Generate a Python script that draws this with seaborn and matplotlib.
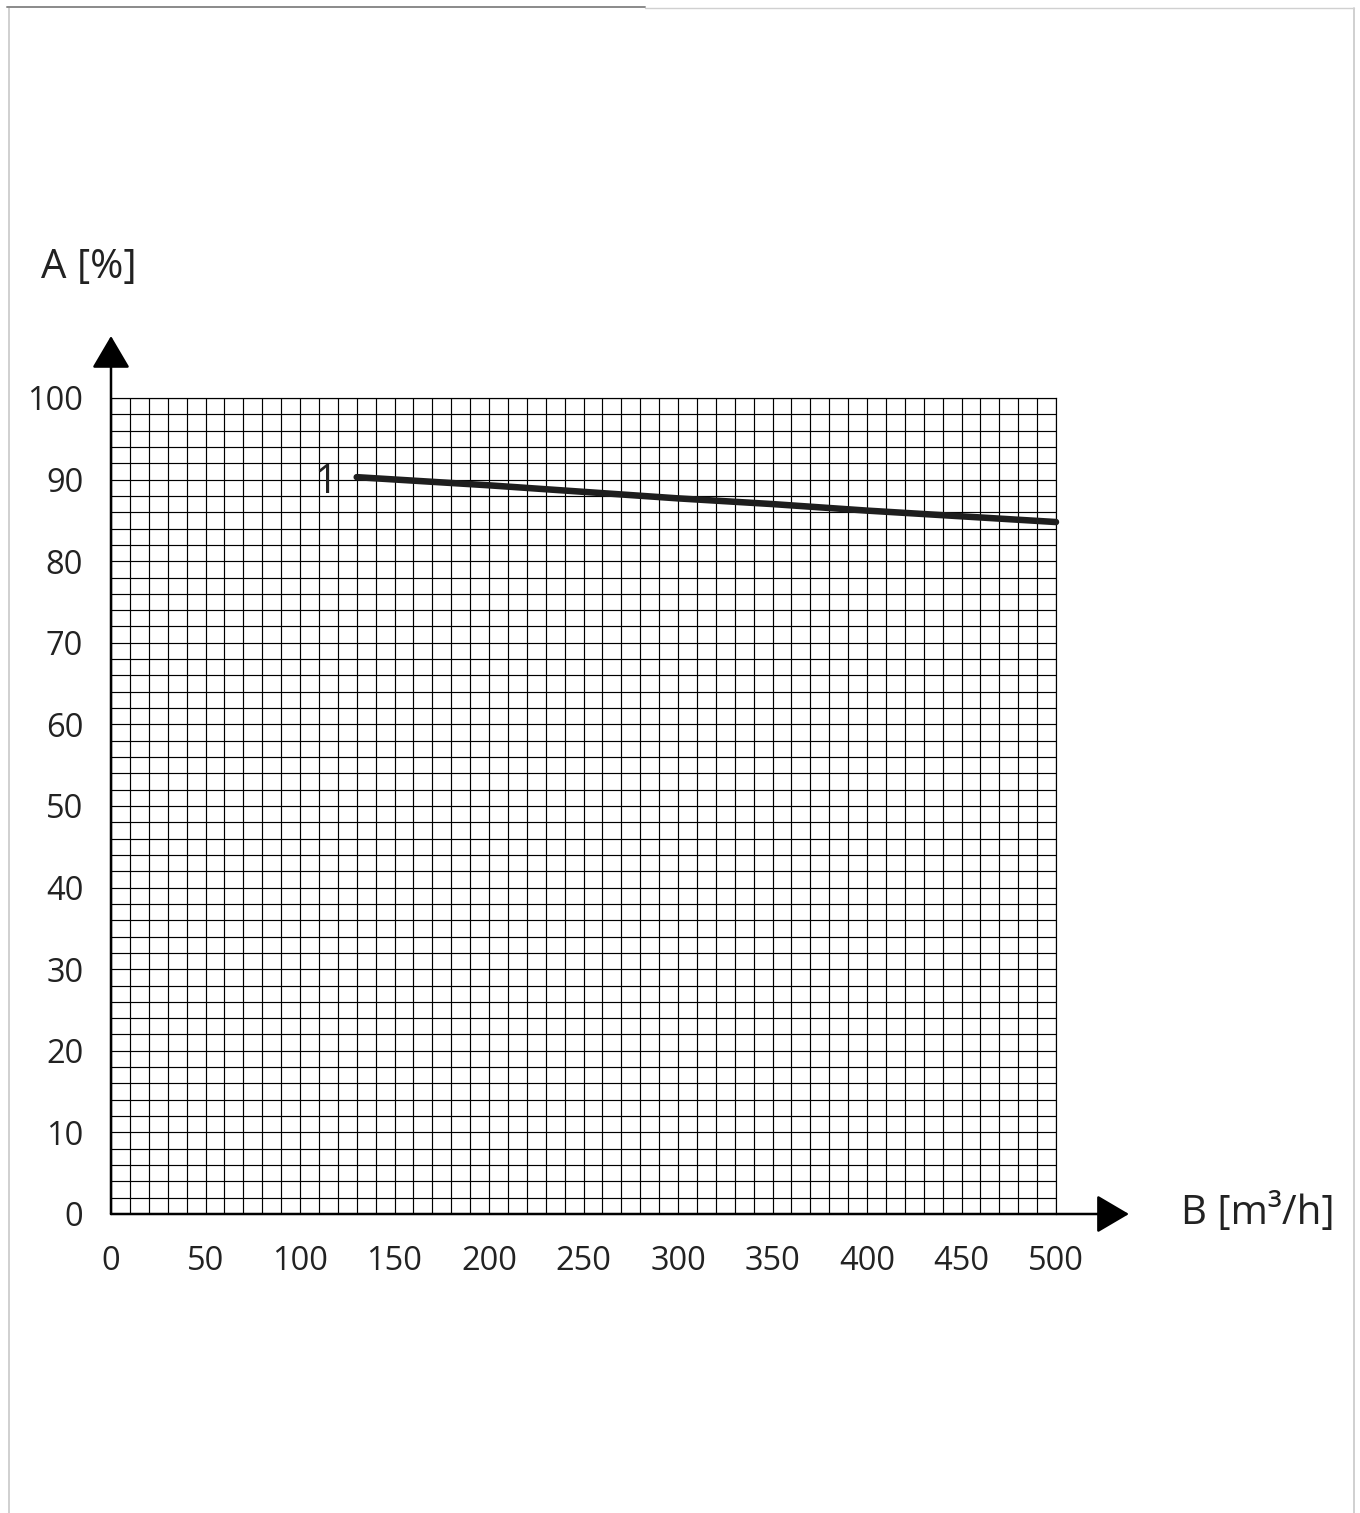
import matplotlib
matplotlib.use("Agg")
import matplotlib.pyplot as plt
import seaborn as sns
import numpy as np
import pandas as pd
from matplotlib.lines import Line2D

# ---- data ----
flow = [130, 200, 250, 300, 350, 400, 450, 500]          # B [m³/h]
efficiency = [90.3, 89.3, 88.5, 87.7, 87.0, 86.2, 85.5, 84.8]  # A [%]
x_ticks = [0, 50, 100, 150, 200, 250, 300, 350, 400, 450, 500]
y_ticks = [0, 10, 20, 30, 40, 50, 60, 70, 80, 90, 100]
curve_label = "1"
x_label = "B [m³/h]"
y_label = "A [%]"

sns.set_style("white")
plt.rcParams['font.family'] = ['Open Sans', 'DejaVu Sans']
TXT = "#222222"

W, H = 1360, 1513
fig = plt.figure(figsize=(W / 100, H / 100), dpi=100)
fig.patch.set_facecolor("white")

L, R, T, B = 111, 1056, 398, 1214
ax = fig.add_axes([L / W, 1 - B / H, (R - L) / W, (B - T) / H])
ax.set_xlim(0, 500)
ax.set_ylim(0, 100)
ax.set_facecolor("none")

# grid
ax.set_xticks(np.arange(0, 501, 10), minor=True)
ax.set_yticks(np.arange(0, 101, 2), minor=True)
ax.set_xticks(x_ticks)
ax.set_yticks(y_ticks)
ax.set_xticklabels([str(v) for v in x_ticks])
ax.set_yticklabels([str(v) for v in y_ticks])
ax.grid(which="both", color="black", linewidth=0.85)
ax.tick_params(which="both", length=0)
ax.tick_params(axis="x", pad=22, labelsize=23.5, labelcolor=TXT)
ax.tick_params(axis="y", pad=20, labelsize=23.5, labelcolor=TXT)
for s in ax.spines.values():
    s.set_visible(False)
for side in ("top", "right"):
    ax.spines[side].set_visible(True)
    ax.spines[side].set_linewidth(0.85)
    ax.spines[side].set_color("black")

# curve
df = pd.DataFrame({"B": flow, "A": efficiency})
sns.lineplot(data=df, x="B", y="A", ax=ax, color="#1e1e1e", linewidth=4.7,
             solid_capstyle="round", clip_on=False, zorder=5)
ax.set_xlabel("")
ax.set_ylabel("")
ax.text(120, 89.6, curve_label, ha="right", va="center", fontsize=29, color=TXT)

# axes arrows
arrow_kw = dict(arrowstyle="-|>,head_length=0.85,head_width=0.5", mutation_scale=23.8,
                lw=1.8, color="black", shrinkA=0, shrinkB=0)
ax.annotate("", xy=(0, 107.6), xytext=(0, 0), xycoords="data",
            arrowprops=arrow_kw, annotation_clip=False, zorder=6)
ax.annotate("", xy=(538.6, 0), xytext=(0, 0), xycoords="data",
            arrowprops=arrow_kw, annotation_clip=False, zorder=6)

# axis titles
fig.text(41 / W, 1 - 268 / H, y_label, ha="left", va="center", fontsize=29, color=TXT)
fig.text(1181 / W, 1 - 1214 / H, x_label, ha="left", va="center", fontsize=29, color=TXT)

# page frame (scan border)
fig.add_artist(Line2D([9 / W, 9 / W], [0, 1 - 8 / H], color="#c8c8c8", lw=1.2))
fig.add_artist(Line2D([1354 / W, 1354 / W], [0, 1 - 8 / H], color="#c8c8c8", lw=1.2))
fig.add_artist(Line2D([7 / W, 645 / W], [1 - 6.5 / H, 1 - 6.5 / H], color="#8a8a8a", lw=1.4))
fig.add_artist(Line2D([645 / W, 1354 / W], [1 - 7.5 / H, 1 - 7.5 / H], color="#d0d0d0", lw=1.0))

fig.savefig("out.png", dpi=100, facecolor="white")
